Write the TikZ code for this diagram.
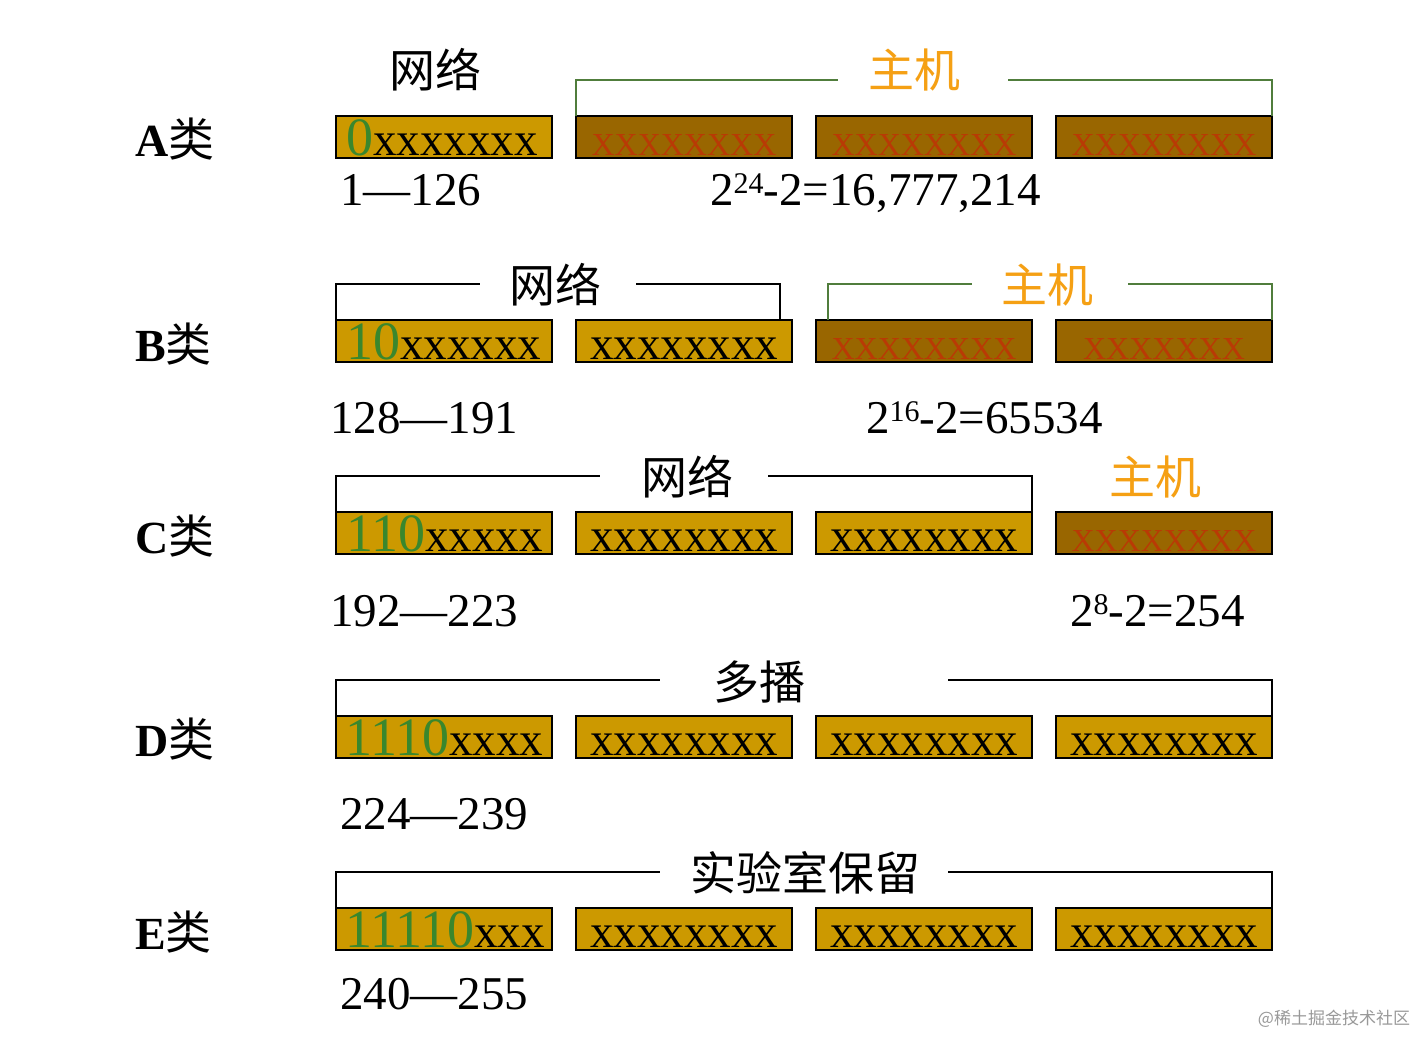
\documentclass[tikz,border=0pt]{standalone}
\usepackage{fontspec}
\setmainfont{Liberation Serif}
\newfontfamily\cjk{Noto Sans CJK SC}
\usetikzlibrary{calc}
\definecolor{goldfill}{RGB}{204,153,0}
\definecolor{brownfill}{RGB}{153,102,0}
\definecolor{xred}{RGB}{185,58,5}
\definecolor{dgreen}{RGB}{58,135,45}
\definecolor{hostorange}{RGB}{245,160,20}
\definecolor{gline}{RGB}{80,125,60}
\newcommand\greendig[1]{{\color{dgreen}\fontsize{54}{54}\selectfont #1}}
\newcommand\supr[1]{\raisebox{12pt}{\fontsize{30}{30}\selectfont #1}}
\tikzset{
  gbox/.style={draw, line width=2.5pt, fill=goldfill, minimum width=216pt, minimum height=42pt, inner sep=0pt, outer sep=0pt},
  dbox/.style={gbox, fill=brownfill},
  bx/.style={font=\fontsize{47}{47}\selectfont, inner sep=0pt, anchor=base},
  rx/.style={font=\fontsize{32}{32}\selectfont, text=xred, inner sep=0pt, anchor=base},
  num/.style={font=\fontsize{47}{47}\selectfont, inner sep=0pt, anchor=base west},
  cls/.style={font=\fontsize{46}{46}\selectfont, inner sep=0pt, anchor=base west},
  cjkl/.style={font=\cjk\fontsize{46}{46}\selectfont, inner sep=0pt},
  hostl/.style={cjkl, text=hostorange},
  brk/.style={line width=2pt, black},
  gbrk/.style={line width=2pt, gline},
}
\begin{document}
\begin{tikzpicture}[x=1pt,y=-1pt]
\fill[white] (0,0) rectangle (1420,1036);
\useasboundingbox (0,0) rectangle (1420,1036);

% ---------- row labels
\node[cls] (la) at (135,156) {\textbf{A}{\cjk 类}};
\node[cls] (lb) at (135,361) {\textbf{B}{\cjk 类}};
\node[cls] (lc) at (135,553) {\textbf{C}{\cjk 类}};
\node[cls] (ld) at (135,756) {\textbf{D}{\cjk 类}};
\node[cls] (le) at (135,949) {\textbf{E}{\cjk 类}};

% ---------- A row
\node[gbox] (a1) at (444,137) {};
\node[dbox] (a2) at (684,137) {};
\node[dbox] (a3) at (924,137) {};
\node[dbox] (a4) at (1164,137) {};
\node[bx, anchor=base west] (ta1) at (346,155) {\greendig{0}xxxxxxx};
\node[rx] (ta2) at (684,155) {XXXXXXXX};
\node[rx] (ta3) at (924,155) {XXXXXXXX};
\node[rx] (ta4) at (1164,155) {XXXXXXXX};
\node[cjkl] (netA) at (435,70) {网络};
\node[hostl] (hostA) at (914,70) {主机};
\coordinate (gA1) at (838,80);
\coordinate (gA2) at (1008,80);
\draw[gbrk] (a2.north west) |- (gA1);
\draw[gbrk] (gA2) -| (a4.north east);
\node[num] (nA1) at (340,205) {1—126};
\node[num] (nA2) at (710,205) {2\supr{24}-2=16,777,214};

% ---------- B row
\node[gbox] (b1) at (444,341) {};
\node[gbox] (b2) at (684,341) {};
\node[dbox] (b3) at (924,341) {};
\node[dbox] (b4) at (1164,341) {};
\node[bx, anchor=base west] (tb1) at (346,359) {\greendig{10}xxxxxx};
\node[bx] (tb2) at (684,359) {xxxxxxxx};
\node[rx] (tb3) at (924,359) {XXXXXXXX};
\node[rx] (tb4) at (1164,359) {XXXXXXX};
\node[cjkl] (netB) at (555,285) {网络};
\node[hostl] (hostB) at (1047,285) {主机};
\coordinate (bB1) at (480,284);
\coordinate (bB2) at (636,284);
\draw[brk] (b1.north west) |- (bB1);
\draw[brk] (bB2) -| ($(b2.north east)+(-12,0)$);
\coordinate (gB1) at (972,284);
\coordinate (gB2) at (1128,284);
\draw[gbrk] ($(b3.north west)+(12,0)$) |- (gB1);
\draw[gbrk] (gB2) -| (b4.north east);
\node[num] (nB1) at (330,433) {128—191};
\node[num] (nB2) at (866,433) {2\supr{16}-2=65534};

% ---------- C row
\node[gbox] (c1) at (444,533) {};
\node[gbox] (c2) at (684,533) {};
\node[gbox] (c3) at (924,533) {};
\node[dbox] (c4) at (1164,533) {};
\node[bx, anchor=base west] (tc1) at (346,551) {\greendig{110}xxxxx};
\node[bx] (tc2) at (684,551) {xxxxxxxx};
\node[bx] (tc3) at (924,551) {xxxxxxxx};
\node[rx] (tc4) at (1164,551) {XXXXXXXX};
\node[cjkl] (netC) at (687,477) {网络};
\node[hostl] (hostC) at (1155,477) {主机};
\coordinate (bC1) at (600,476);
\coordinate (bC2) at (768,476);
\draw[brk] (c1.north west) |- (bC1);
\draw[brk] (bC2) -| (c3.north east);
\node[num] (nC1) at (330,626) {192—223};
\node[num] (nC2) at (1070,626) {2\supr{8}-2=254};

% ---------- D row
\node[gbox] (d1) at (444,737) {};
\node[gbox] (d2) at (684,737) {};
\node[gbox] (d3) at (924,737) {};
\node[gbox] (d4) at (1164,737) {};
\node[bx, anchor=base west] (td1) at (345,755) {\greendig{1110}xxxx};
\node[bx] (td2) at (684,755) {xxxxxxxx};
\node[bx] (td3) at (924,755) {xxxxxxxx};
\node[bx] (td4) at (1164,755) {xxxxxxxx};
\node[cjkl] (multD) at (759,682) {多播};
\coordinate (bD1) at (660,680);
\coordinate (bD2) at (948,680);
\draw[brk] (d1.north west) |- (bD1);
\draw[brk] (bD2) -| (d4.north east);
\node[num] (nD1) at (340,829) {224—239};

% ---------- E row
\node[gbox] (e1) at (444,929) {};
\node[gbox] (e2) at (684,929) {};
\node[gbox] (e3) at (924,929) {};
\node[gbox] (e4) at (1164,929) {};
\node[bx, anchor=base west] (te1) at (345,947) {\greendig{11110}xxx};
\node[bx] (te2) at (684,947) {xxxxxxxx};
\node[bx] (te3) at (924,947) {xxxxxxxx};
\node[bx] (te4) at (1164,947) {xxxxxxxx};
\node[cjkl] (resE) at (805,873) {实验室保留};
\coordinate (bE1) at (660,872);
\coordinate (bE2) at (948,872);
\draw[brk] (e1.north west) |- (bE1);
\draw[brk] (bE2) -| (e4.north east);
\node[num] (nE1) at (340,1009) {240—255};

% ---------- watermark
\node[font=\cjk\fontsize{17}{17}\selectfont, text=black!40, inner sep=0pt] (wm) at (1334,1019) {@稀土掘金技术社区};
\end{tikzpicture}
\end{document}
